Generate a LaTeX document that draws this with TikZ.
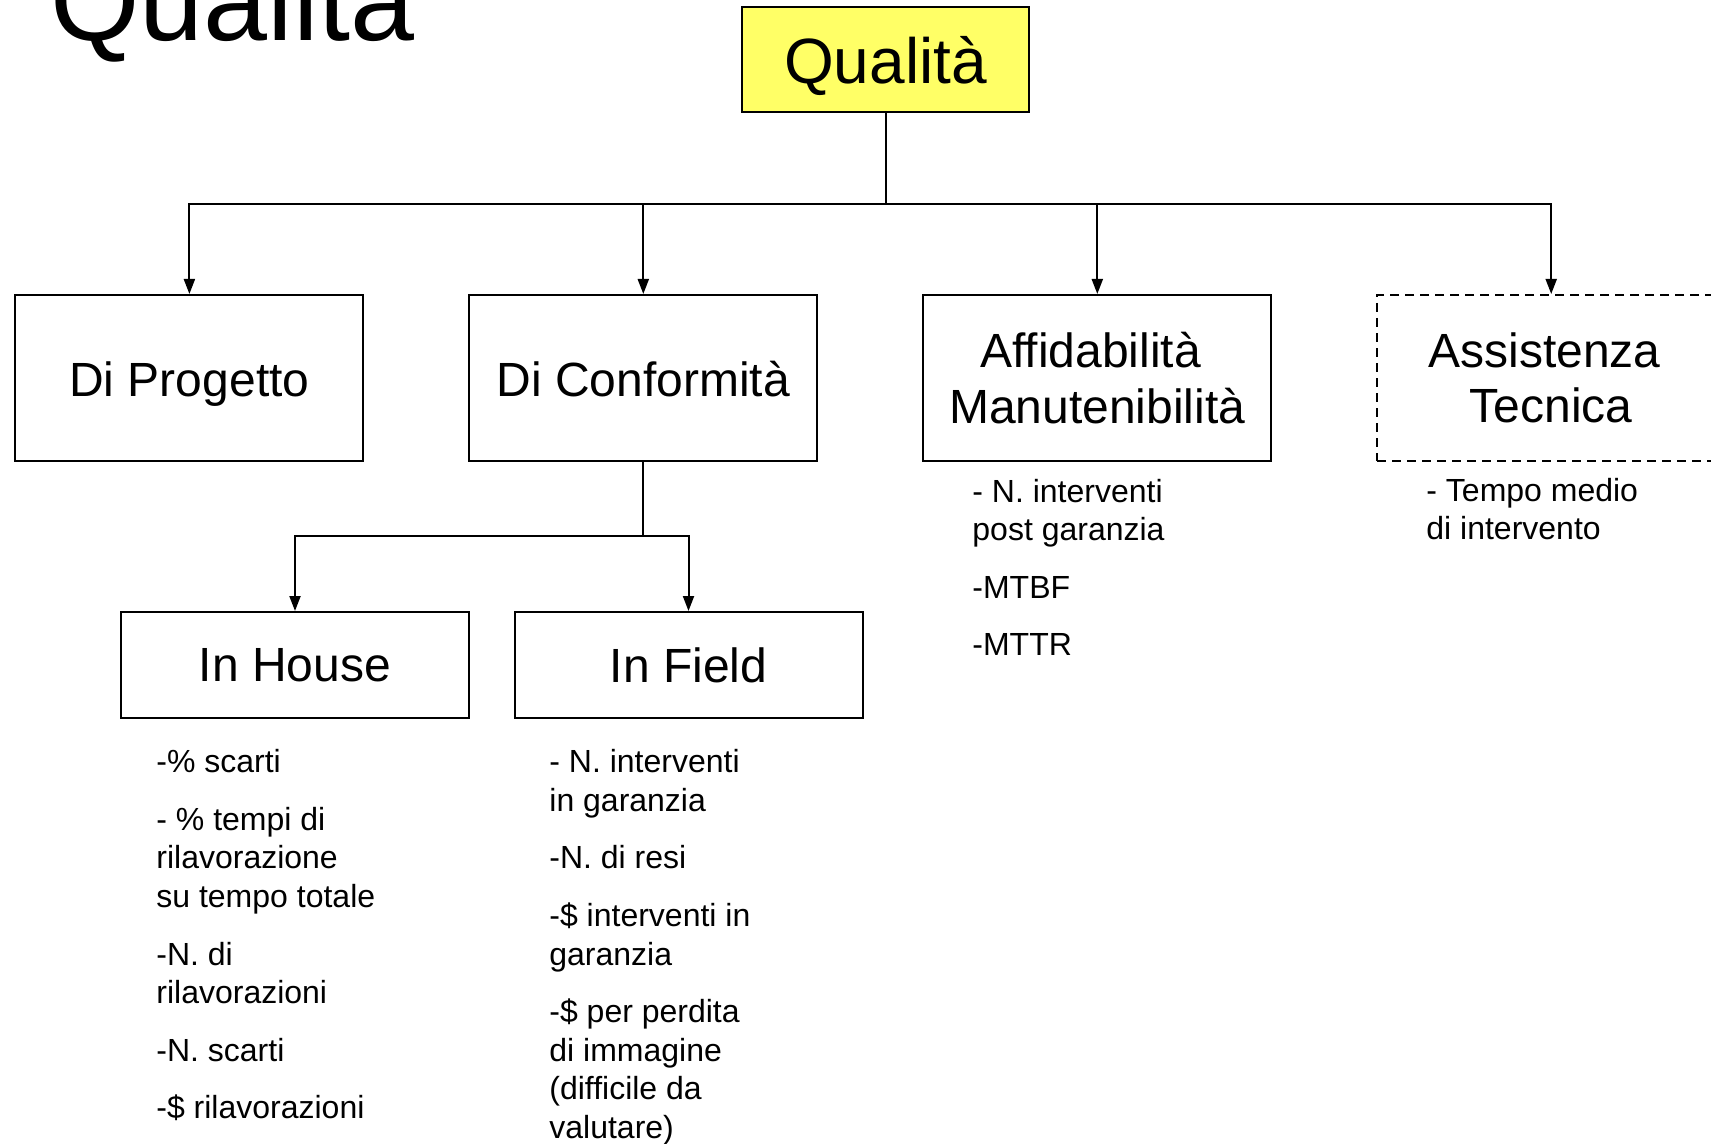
\documentclass[tikz,border=0pt]{standalone}
\usepackage{fontspec}
\setmainfont{Liberation Sans}
\usetikzlibrary{arrows.meta}
\definecolor{qyellow}{RGB}{255,255,102}
\newcommand\lstline[1]{\hbox{#1}}
\newcommand\lstgap{\vskip9.4pt}
\newcommand\lstbox[1]{\vtop{\baselineskip=19.35pt\lineskip=0pt\lineskiplimit=0pt #1}}
\begin{document}
\begin{tikzpicture}[x=0.5pt,y=-0.5pt,
  box/.style={draw=black, line width=1pt, inner sep=0pt, align=center,
    font=\fontsize{24}{27.8}\selectfont},
  lvtwo/.style={box, minimum width=174pt, minimum height=83pt},
  one/.style={text height=18.7pt, text depth=0pt},
  lvthree/.style={box, minimum width=174pt, minimum height=53pt},
  arr/.style={line width=1pt, -{Triangle[length=7.5pt,width=5.5pt]}},
  conn/.style={line width=1pt},
  lst/.style={anchor=base west, inner sep=0pt, font=\fontsize{16}{19.35}\selectfont}]
\fill[white] (0,0) rectangle (1711,1144);
\useasboundingbox (0,0) rectangle (1711,1144);
% title
\node[anchor=base west, inner sep=0pt, font=\fontsize{57.5}{60}\selectfont] (title) at (50,41) {Qualità};
% root
\node[box, fill=qyellow, minimum width=143.5pt, minimum height=52.5pt,
  text height=23.5pt, text depth=0pt,
  font=\fontsize{32}{36}\selectfont] (q) at (885.5,59.8) {Qualità};
% level 2
\node[lvtwo, one] (p1) at (189.4,378) {Di Progetto};
\node[lvtwo, one] (p2) at (643.3,378) {Di Conformità};
\node[lvtwo] (p3) at (1097.3,378) {Affidabilità\kern0.278em\\Manutenibilità};
\node[lvtwo, dash pattern=on 4.5pt off 3pt] (p4) at (1551.2,378) {Assistenza\kern0.278em\\Tecnica};
% level 3
\node[lvthree] (h) at (295,665) {In House};
\node[lvthree] (f) at (688.5,665) {In Field};
% connectors
\coordinate (bar) at (885.5,204);
\draw[conn] (q.south) -- (bar);
\draw[arr] (bar) -| (p1.north);
\draw[arr] (bar) -| (p2.north);
\draw[arr] (bar) -| (p3.north);
\draw[arr] (bar) -| (p4.north);
\coordinate (bar2) at (643.3,536);
\draw[conn] (p2.south) -- (bar2);
\draw[arr] (bar2) -| (h.north);
\draw[arr] (bar2) -| (f.north);
% lists
\node[lst] (lh) at (156,772.6) {\lstbox{\lstline{-\% scarti}\lstgap
  \lstline{- \% tempi di}\lstline{rilavorazione}\lstline{su tempo totale}\lstgap
  \lstline{-N. di}\lstline{rilavorazioni}\lstgap
  \lstline{-N. scarti}\lstgap
  \lstline{-\$ rilavorazioni}}};
\node[lst] (lf) at (549,772.6) {\lstbox{\lstline{- N. interventi}\lstline{in garanzia}\lstgap
  \lstline{-N. di resi}\lstgap
  \lstline{-\$ interventi in}\lstline{garanzia}\lstgap
  \lstline{-\$ per perdita}\lstline{di immagine}\lstline{(difficile da}\lstline{valutare)}}};
\node[lst] (la) at (972,502) {\lstbox{\lstline{- N. interventi}\lstline{post garanzia}\lstgap
  \lstline{-MTBF}\lstgap
  \lstline{-MTTR}}};
\node[lst] (lt) at (1426,501) {\lstbox{\lstline{- Tempo medio}\lstline{di intervento}}};
\end{tikzpicture}
\end{document}
